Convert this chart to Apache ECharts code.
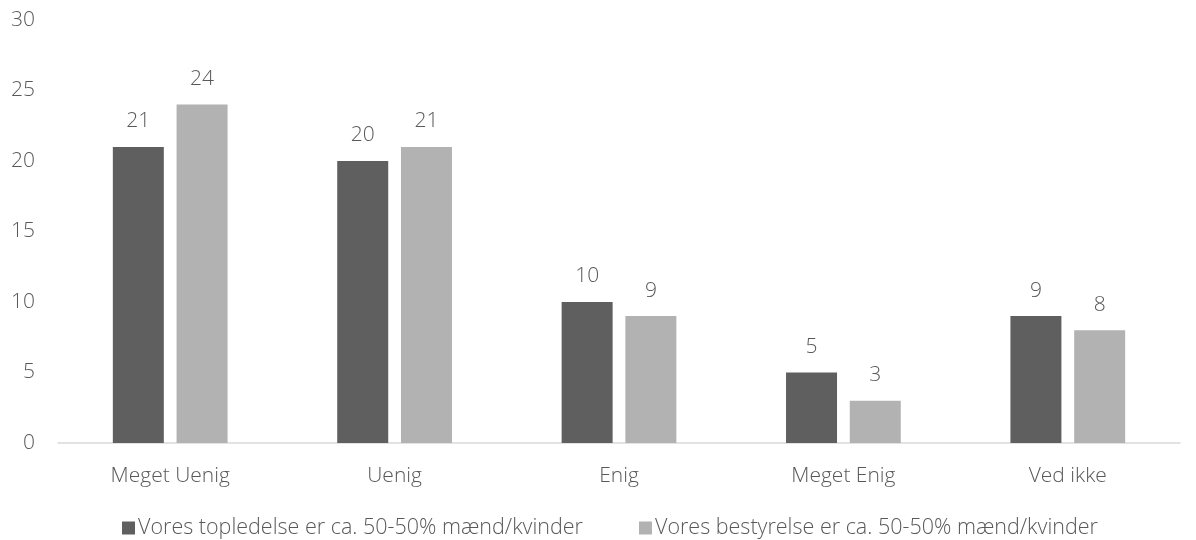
<!DOCTYPE html>
<html><head><meta charset="utf-8">
<script src="https://cdn.jsdelivr.net/npm/echarts@6/dist/echarts.min.js"></script>
<style>html,body{margin:0;padding:0;background:#fff}#c{width:1196px;height:540px}</style>
</head><body><div id="c"></div>
<script>
const categories = ['Meget Uenig', 'Uenig', 'Enig', 'Meget Enig', 'Ved ikke'];
const seriesNames = ['Vores topledelse er ca. 50-50% mænd/kvinder', 'Vores bestyrelse er ca. 50-50% mænd/kvinder'];
const topledelse = [21, 20, 10, 5, 9];
const bestyrelse = [24, 21, 9, 3, 8];
const yTicks = [0, 5, 10, 15, 20, 25, 30];

const FONT = '"Open Sans", sans-serif';
const TXT = '#595959';
const FS = 21;
const chart = echarts.init(document.getElementById('c'));
const lbl = {show: true, position: 'top', distance: 15, color: TXT, fontSize: FS, fontFamily: FONT, fontWeight: 300};
chart.setOption({
  animation: false,
  grid: {left: 58, right: 16, top: 20, bottom: 97, containLabel: false},
  legend: {
    top: 512, left: 117, itemWidth: 13, itemHeight: 13, itemGap: 56,
    icon: 'rect',
    textStyle: {color: TXT, fontSize: 21.5, fontFamily: FONT, fontWeight: 300, padding: [0, 0, 0, -2]},
    data: seriesNames
  },
  xAxis: {
    type: 'category', data: categories,
    axisLine: {lineStyle: {color: '#d9d9d9', width: 1.5}},
    axisTick: {show: false},
    axisLabel: {color: TXT, fontSize: FS, fontFamily: FONT, fontWeight: 300, margin: 23}
  },
  yAxis: {
    type: 'value', min: yTicks[0], max: yTicks[yTicks.length - 1], interval: 5,
    splitLine: {show: false}, axisLine: {show: false}, axisTick: {show: false},
    axisLabel: {color: TXT, fontSize: FS, fontFamily: FONT, fontWeight: 300, margin: 23}
  },
  series: [
    {name: seriesNames[0], type: 'bar', data: topledelse, barWidth: 51, barGap: '25%',
     itemStyle: {color: '#5f5f5f'}, label: lbl},
    {name: seriesNames[1], type: 'bar', data: bestyrelse, barWidth: 51,
     itemStyle: {color: '#b2b2b2'}, label: lbl}
  ]
});
</script></body></html>
